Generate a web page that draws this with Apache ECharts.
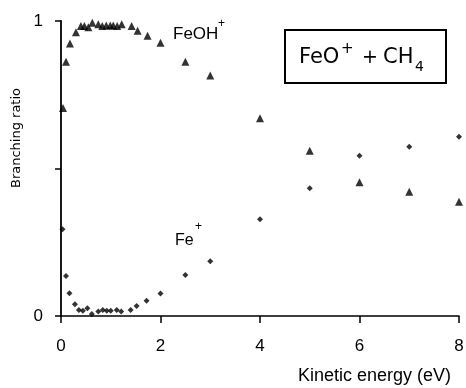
<!DOCTYPE html>
<html>
<head>
<meta charset="utf-8">
<script src="https://cdn.jsdelivr.net/npm/echarts@6/dist/echarts.min.js"></script>
<style>
  html, body { margin: 0; padding: 0; background: #fff; }
  #chart { width: 466px; height: 388px; }
</style>
</head>
<body>
<div id="chart"></div>
<script>
// kinetic energy (eV) and branching ratios
const feohEnergy = [0.04, 0.1, 0.18, 0.3, 0.4, 0.47, 0.55, 0.63, 0.75, 0.83, 0.91, 0.99, 1.05, 1.13, 1.22, 1.42, 1.54, 1.74, 2, 2.5, 3, 4, 5, 6, 7, 8];
const feohRatio = [0.705, 0.862, 0.924, 0.962, 0.983, 0.983, 0.979, 0.994, 0.989, 0.983, 0.985, 0.985, 0.985, 0.983, 0.989, 0.983, 0.967, 0.950, 0.926, 0.862, 0.815, 0.670, 0.560, 0.453, 0.421, 0.387];

const feEnergy = [0.03, 0.1, 0.17, 0.28, 0.36, 0.44, 0.53, 0.62, 0.75, 0.84, 0.92, 1.0, 1.12, 1.21, 1.4, 1.52, 1.72, 2, 2.5, 3, 4, 5, 6, 7, 8];
const feRatio = [0.294, 0.136, 0.077, 0.040, 0.020, 0.018, 0.026, 0.007, 0.015, 0.020, 0.018, 0.018, 0.020, 0.015, 0.020, 0.034, 0.052, 0.076, 0.139, 0.186, 0.328, 0.433, 0.543, 0.574, 0.608];

const yTickLabels = { 0: '0', 1: '1' };

const pairs = (xs, ys) => xs.map((x, i) => [x, ys[i]]);

// small helper for the free text pieces
const txt = (text, x, y, size, family, extra) => ({
    type: 'text',
    x: x,
    y: y,
    style: Object.assign({
        text: text,
        fill: '#000',
        fontSize: size,
        fontFamily: family,
        verticalAlign: 'middle'
    }, extra || {})
});

const chart = echarts.init(document.getElementById('chart'));

const option = {
    animation: false,
    grid: {
        left: 61,
        top: 21,
        width: 398,
        height: 295,
        outerBoundsMode: 'none'
    },
    xAxis: {
        type: 'value',
        min: 0,
        max: 8,
        interval: 2,
        axisLine: { lineStyle: { color: '#000', width: 1.5 } },
        axisTick: { show: true, length: 7, lineStyle: { color: '#000', width: 1.5 } },
        splitLine: { show: false },
        axisLabel: {
            margin: 22,
            color: '#000',
            fontSize: 17,
            fontFamily: 'Liberation Sans'
        }
    },
    yAxis: {
        type: 'value',
        min: 0,
        max: 1,
        interval: 0.5,
        axisLine: { show: true, lineStyle: { color: '#000', width: 1.8 } },
        axisTick: { show: true, length: 6, lineStyle: { color: '#000', width: 1.5 } },
        splitLine: { show: false },
        axisLabel: {
            margin: 18,
            color: '#000',
            fontSize: 17,
            fontFamily: 'Liberation Sans',
            formatter: v => yTickLabels[v] || ''
        }
    },
    graphic: [
        Object.assign(txt('Branching ratio', 17, 138, 13, 'DejaVu Sans', { align: 'center' }), { rotation: Math.PI / 2 }),
        txt('Kinetic energy (eV)', 298, 376, 18, 'Liberation Sans'),
        // FeOH+ label
        txt('FeOH', 173, 34, 17, 'Liberation Sans'),
        txt('+', 218, 24, 12, 'Liberation Sans'),
        // Fe+ label
        txt('Fe', 175, 241, 16, 'Liberation Sans'),
        txt('+', 195, 227, 12, 'Liberation Sans'),
        // reaction box
        {
            type: 'rect',
            shape: { x: 285, y: 30, width: 161, height: 53 },
            style: { fill: 'none', stroke: '#000', lineWidth: 2 }
        },
        txt('FeO', 299, 58, 21, 'DejaVu Sans'),
        txt('+', 341, 49, 15, 'DejaVu Sans'),
        txt('+', 362, 58, 19, 'DejaVu Sans'),
        txt('CH', 383, 58, 21, 'DejaVu Sans'),
        txt('4', 415, 67, 14, 'DejaVu Sans')
    ],
    series: [
        {
            name: 'FeOH+',
            type: 'scatter',
            symbol: 'triangle',
            symbolSize: 8,
            itemStyle: { color: '#000' },
            data: pairs(feohEnergy, feohRatio)
        },
        {
            name: 'Fe+',
            type: 'scatter',
            symbol: 'diamond',
            symbolSize: 6,
            itemStyle: { color: '#000' },
            data: pairs(feEnergy, feRatio)
        }
    ]
};

chart.setOption(option);
</script>
</body>
</html>
